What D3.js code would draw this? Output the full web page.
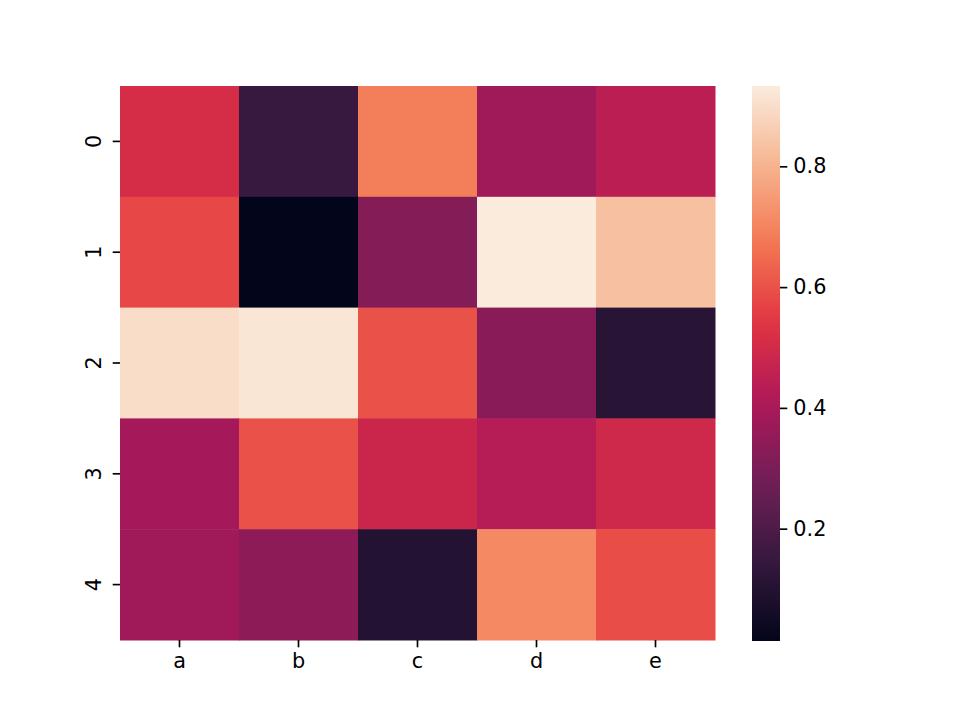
<!DOCTYPE html>
<html><head><meta charset="utf-8">
<script src="https://cdn.jsdelivr.net/npm/d3@7"></script>
<style>body{margin:0;background:#fff}svg{display:block}text{font-family:"DejaVu Sans",sans-serif}</style>
</head><body><svg id="c" width="960" height="720"></svg>
<script>
const columns = ["a","b","c","d","e"];
const rows = ["0","1","2","3","4"];
const row0 = [0.51, 0.15, 0.69, 0.38, 0.44];
const row1 = [0.58, 0.014, 0.32, 0.933, 0.83];
const row2 = [0.90, 0.92, 0.60, 0.33, 0.11];
const row3 = [0.39, 0.60, 0.48, 0.43, 0.49];
const row4 = [0.38, 0.34, 0.10, 0.71, 0.59];
const values = [row0,row1,row2,row3,row4];
const cbTicks = [0.2,0.4,0.6,0.8];
const vmin = 0.014, vmax = 0.933;
const rocketStops = ["#03051a","#35193e","#701f57","#ad1759","#e13342","#f37651","#f6b48f","#faebdd"];

const rocket = d3.scaleLinear().domain(d3.range(rocketStops.length).map(i=>i/(rocketStops.length-1))).range(rocketStops).interpolate(d3.interpolateRgb);
const color = v => rocket(Math.max(0,Math.min(1,(v-vmin)/(vmax-vmin))));

const svg = d3.select("#c");
const L=120,R=715,T=86,B=640;
const x = d3.scaleBand().domain(columns).range([L,R]);
const y = d3.scaleBand().domain(rows).range([T,B]);

const cells=[];
values.forEach((r,i)=>r.forEach((v,j)=>cells.push({r:rows[i],c:columns[j],v})));
svg.append("g").selectAll("rect").data(cells).join("rect")
  .attr("x",d=>x(d.c)).attr("y",d=>y(d.r))
  .attr("width",x.bandwidth()+0.5).attr("height",y.bandwidth()+0.5)
  .attr("fill",d=>color(d.v));

const fs="20.8px";
const xa = svg.append("g").attr("transform",`translate(0,${B})`).call(d3.axisBottom(x).tickSize(7.3).tickPadding(6));
xa.select(".domain").remove();
xa.selectAll(".tick line").attr("stroke","#000").attr("stroke-width",1.67);
xa.selectAll(".tick text").attr("font-size",fs).attr("fill","#000").attr("font-family","DejaVu Sans");

const ya = svg.append("g").attr("transform",`translate(${L},0)`).call(d3.axisLeft(y).tickSize(7.3).tickPadding(6));
ya.select(".domain").remove();
ya.selectAll(".tick line").attr("stroke","#000").attr("stroke-width",1.67);
ya.selectAll(".tick text").attr("font-size",fs).attr("fill","#000").attr("font-family","DejaVu Sans")
  .attr("text-anchor","middle").attr("dy",null).attr("x",null)
  .attr("transform","translate(-26,0) rotate(-90)").attr("dominant-baseline","central");

// colorbar
const cbL=752,cbR=780;
const cy = d3.scaleLinear().domain([vmin,vmax]).range([B+1,T]);
const defs = svg.append("defs");
const grad = defs.append("linearGradient").attr("id","cb").attr("x1",0).attr("x2",0).attr("y1",1).attr("y2",0);
d3.range(0,1.0001,0.05).forEach(t=>grad.append("stop").attr("offset",t).attr("stop-color",rocket(t)));
svg.append("rect").attr("x",cbL).attr("y",T).attr("width",cbR-cbL).attr("height",B+1-T).attr("fill","url(#cb)");
const ca = svg.append("g").attr("transform",`translate(${cbR},0)`).call(d3.axisRight(cy).tickValues(cbTicks).tickFormat(d3.format(".1f")).tickSize(7.3).tickPadding(6));
ca.select(".domain").remove();
ca.selectAll(".tick line").attr("stroke","#000").attr("stroke-width",1.67);
ca.selectAll(".tick text").attr("font-size",fs).attr("fill","#000").attr("font-family","DejaVu Sans");
</script></body></html>
